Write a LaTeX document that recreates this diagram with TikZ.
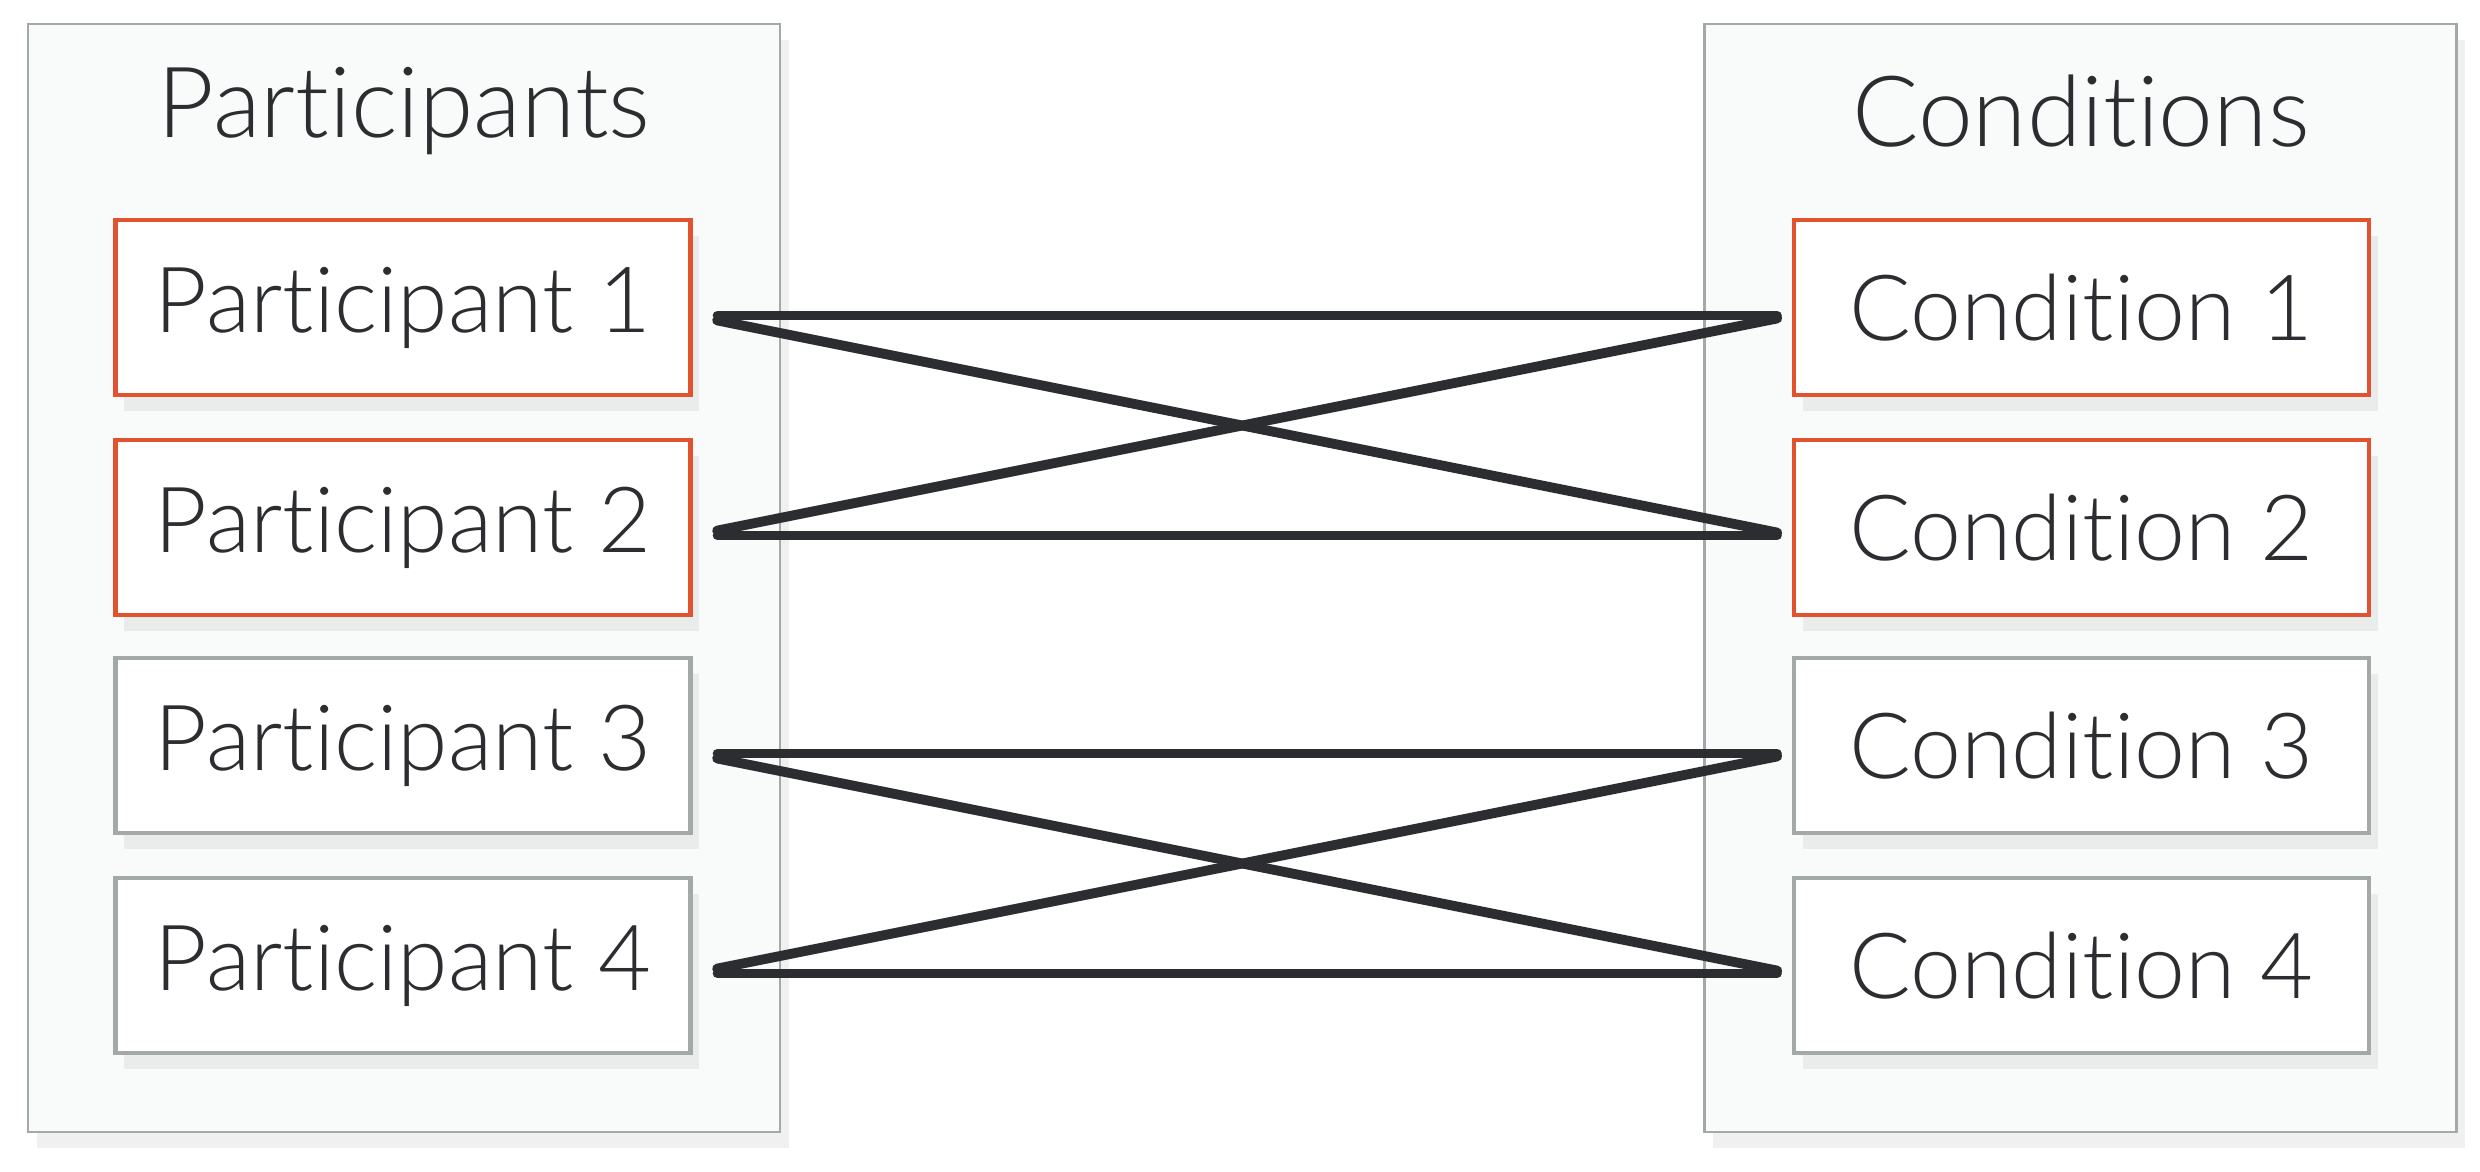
\documentclass[tikz,border=0pt]{standalone}
\usepackage{fontspec}
\setmainfont{Lato}[UprightFont=* Light, Ligatures=NoCommon]
\usepackage{tikz}
\usetikzlibrary{shadows}
\usetikzlibrary{positioning}

\definecolor{boxred}{HTML}{E2522F}
\definecolor{boxgrey}{HTML}{A3A8A9}
\definecolor{inkdark}{HTML}{2B2D30}
\definecolor{panelfill}{HTML}{F9FAFA}

\tikzset{
  softshadow/.style={drop shadow={shadow xshift=0.5ex, shadow yshift=-0.9ex, fill=black!30, opacity=0.2}},
  panel/.style={draw=boxgrey, fill=panelfill, line width=0.8pt, minimum width=7.52cm, minimum height=11.08cm, softshadow},
  paneltitle/.style={font=\fontsize{28}{32}\selectfont, text=inkdark},
  itembox/.style={draw=#1, fill=white, line width=1.2pt, minimum width=5.75cm, minimum height=1.75cm,
    font=\fontsize{26}{30}\selectfont, text=inkdark, softshadow},
  link/.style={draw=inkdark, line width=2.8pt, line cap=round, shorten <=0.25cm, shorten >=0.15cm}
}

\begin{document}
\begin{tikzpicture}

 \useasboundingbox (0,0) rectangle (24.8,11.71);

 % panels
 \node[panel] (partpanel) at (4.04,5.93) {};
 \node[panel] (condpanel) at (20.805,5.93) {};
 \node[paneltitle] (parttitle) at (4.04,10.6) {Participants};
 \node[paneltitle] (condtitle) at (20.81,10.6) {Conditions};

 % boxes
 \foreach \i/\y/\col in {1/8.635/boxred, 2/6.435/boxred, 3/4.255/boxgrey, 4/2.055/boxgrey} {
   \node[itembox=\col] (p\i) at (4.03,\y) {Participant \i};
   \node[itembox=\col] (c\i) at (20.815,\y) {Condition \i};
 }

 % lines
 \foreach \source/\dest in {p1/c1, p1/c2, p2/c1, p2/c2, p3/c3, p3/c4, p4/c3, p4/c4}
   \draw[link] ([yshift=-0.08cm]\source.east) -- ([yshift=-0.08cm]\dest.west);

\end{tikzpicture}
\end{document}
